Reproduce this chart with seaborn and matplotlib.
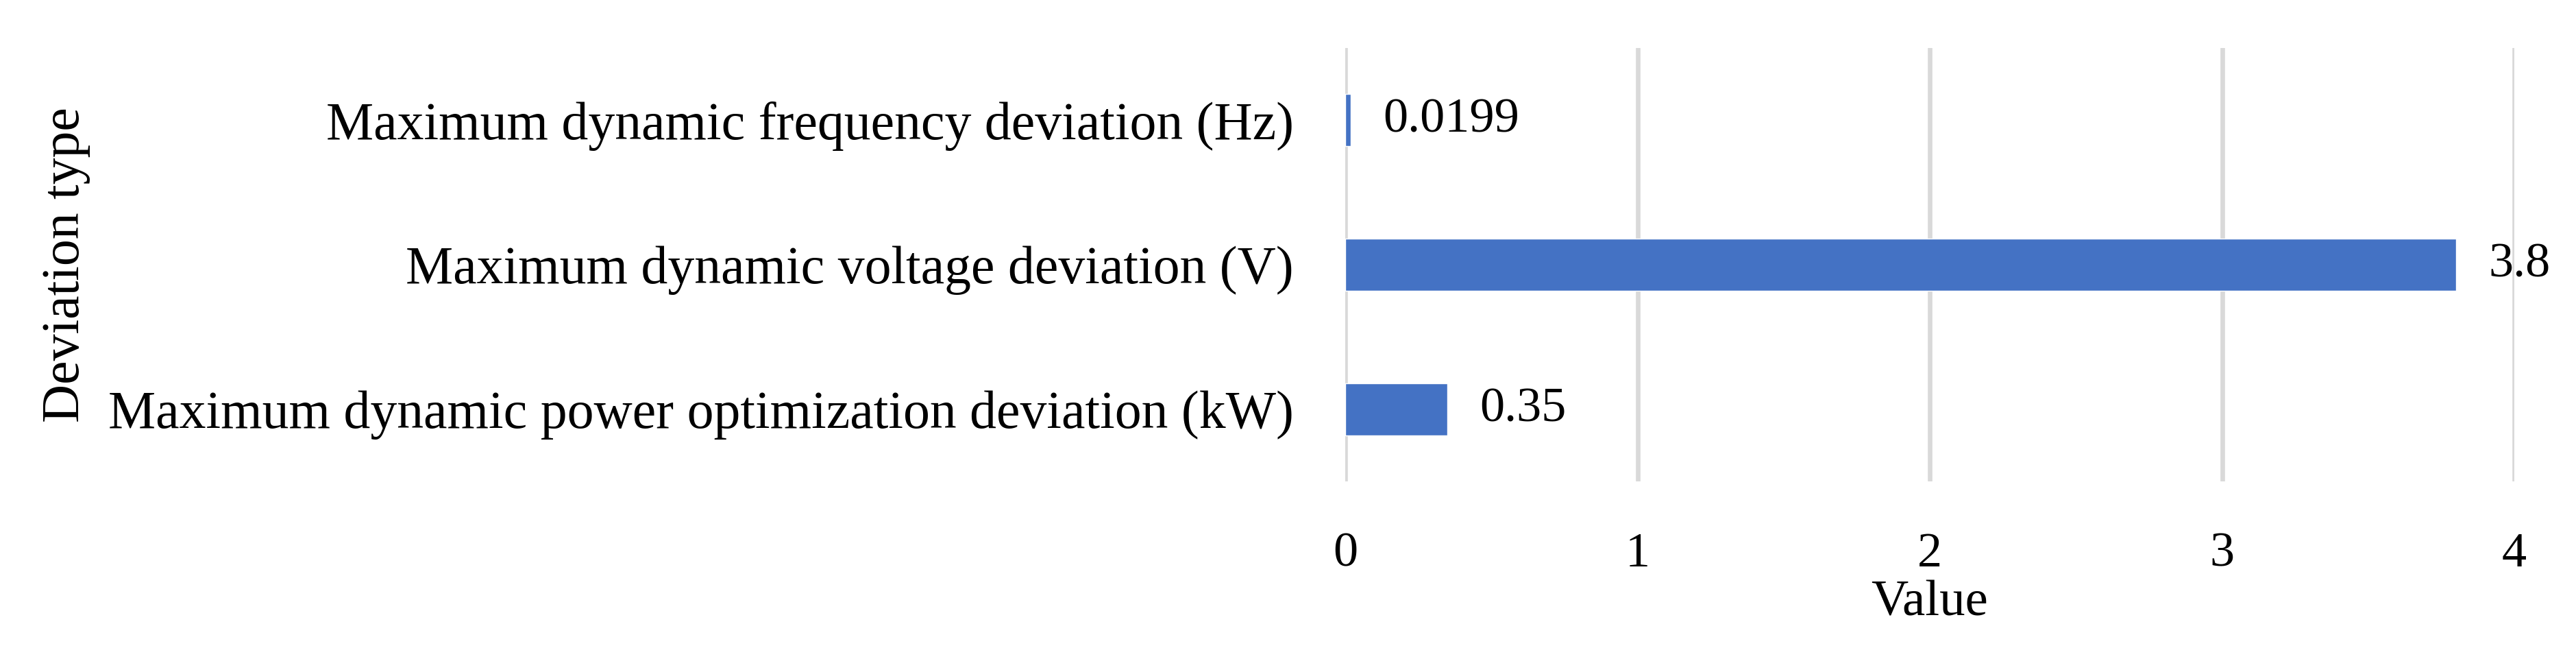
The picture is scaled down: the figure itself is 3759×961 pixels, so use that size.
import matplotlib
matplotlib.use("Agg")
import matplotlib.pyplot as plt
import seaborn as sns
import pandas as pd

categories = [
    "Maximum dynamic frequency deviation (Hz)",
    "Maximum dynamic voltage deviation (V)",
    "Maximum dynamic power optimization deviation (kW)",
]
values = [0.0199, 3.8, 0.35]
value_labels = ["0.0199", "3.8", "0.35"]
x_ticks = [0, 1, 2, 3, 4]

sns.set_theme(style="white")
plt.rcParams["font.family"] = ["Liberation Serif", "DejaVu Serif"]

df = pd.DataFrame({"Deviation type": categories, "Value": values})

W, H, DPI = 3759, 961, 100
fig = plt.figure(figsize=(W / DPI, H / DPI), dpi=DPI)
ax = fig.add_axes([1963 / W, 1 - 702 / H, (3669 - 1963) / W, 632 / H])

sns.barplot(data=df, y="Deviation type", x="Value", orient="h",
            color="#4472C4", saturation=1, width=0.36, ax=ax)

ax.set_xlim(0, 4)
ax.set_ylim(2.5, -0.5)
ax.set_xticks(x_ticks)
ax.set_xticklabels([str(t) for t in x_ticks])
ax.xaxis.grid(True, color="#D9D9D9", linewidth=4.8)
ax.yaxis.grid(False)
ax.set_axisbelow(True)
for s in ax.spines.values():
    s.set_visible(False)

ax.tick_params(axis="x", length=0, pad=53, labelsize=52, colors="black")
ax.tick_params(axis="y", length=0, pad=54, labelsize=56, colors="black")

ax.set_xlabel("Value", fontsize=54, labelpad=4, color="black")
ax.set_ylabel("Deviation type", fontsize=56, color="black")
ax.yaxis.set_label_coords((132 - 1963) / (3669 - 1963), 0.5)

ax.bar_label(ax.containers[0], labels=value_labels, padding=34,
             fontsize=52, color="black")

fig.savefig("out.png", dpi=DPI, facecolor="white")
